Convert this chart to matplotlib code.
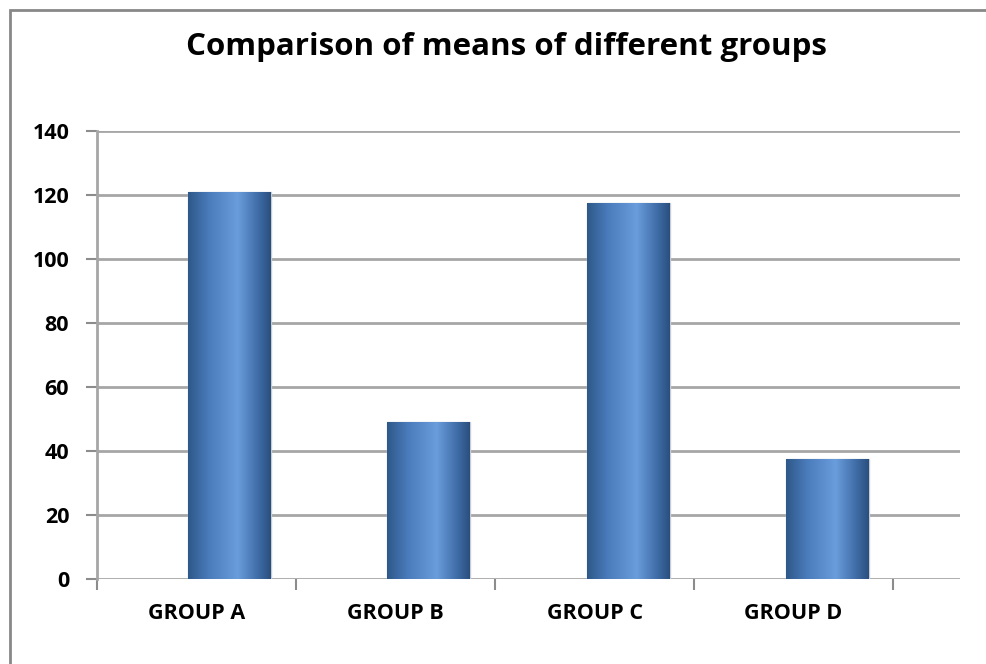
import matplotlib
matplotlib.use("Agg")
import matplotlib.pyplot as plt
import numpy as np
from matplotlib.colors import LinearSegmentedColormap
from matplotlib.patches import Rectangle

categories = ["GROUP A", "GROUP B", "GROUP C", "GROUP D"]
values = [121, 49, 117.5, 37.5]
yticks = [0, 20, 40, 60, 80, 100, 120, 140]
title = "Comparison of means of different groups"

plt.rcParams['font.family'] = ['Open Sans', 'DejaVu Sans']

fig = plt.figure(figsize=(9.86, 6.64), dpi=100)
W, H = 986, 664
ax = fig.add_axes([97 / W, (H - 579) / H, (960 - 97) / W, (579 - 131) / H])

x = np.arange(len(categories))
offset = 0.668
bars = ax.bar(x, values, width=0.417, color='none', edgecolor='none', zorder=3)

cmap = LinearSegmentedColormap.from_list(
    "bg", [(0.0, "#2e5889"), (0.25, "#4a7bbb"), (0.6, "#6a9ddc"), (0.85, "#3f6ca6"), (1.0, "#2a4f7e")])
grad = np.linspace(0, 1, 256).reshape(1, -1)
for b in bars:
    x0, y0 = b.get_x(), b.get_y()
    w, h = b.get_width(), b.get_height()
    im = ax.imshow(grad, cmap=cmap, aspect='auto', extent=(x0, x0 + w, y0, y0 + h),
                   zorder=3, interpolation='bilinear')
    im.set_clip_path(b)
    ax.add_patch(Rectangle((x0, y0), w, h, fill=False, edgecolor='#c8ccd2', lw=1.0, zorder=2.9))

ax.set_xlim(-offset, len(categories) - 1 + offset)
ax.set_ylim(0, 140)

ax.set_yticks(yticks)
ax.set_yticklabels([str(t) for t in yticks], fontsize=15.5, fontweight='bold')
ax.set_xticks([i - offset for i in range(len(categories) + 1)])
ax.set_xticklabels([])
ax.set_xticks([i - offset + 0.5 for i in range(len(categories))], minor=True)
ax.set_xticklabels(categories, minor=True, fontsize=15.5, fontweight='bold')
ax.tick_params(axis='x', which='minor', length=0, pad=17)
ax.tick_params(axis='x', which='major', length=8, width=1.5, color='#8c8c8c', direction='out')
ax.tick_params(axis='y', length=8, width=1.5, color='#8c8c8c', direction='out', pad=12)

ax.grid(axis='y', color='#a6a6a6', lw=2, zorder=1)
ax.set_axisbelow(True)
for s in ['top', 'right']:
    ax.spines[s].set_visible(False)
ax.spines['bottom'].set_visible(False)
ax.spines['left'].set_color('#a6a6a6')
ax.spines['left'].set_linewidth(2)

fig.text(506 / W, 1 - 55 / H, title, ha='center', va='baseline', fontsize=22.5, fontweight='bold')

fig.patches.append(Rectangle((10 / W, -0.1), 1.2, 1 - 10 / H + 0.1, transform=fig.transFigure,
                             fill=False, edgecolor='#888888', lw=2, zorder=0))

fig.savefig("out.png", dpi=100)
